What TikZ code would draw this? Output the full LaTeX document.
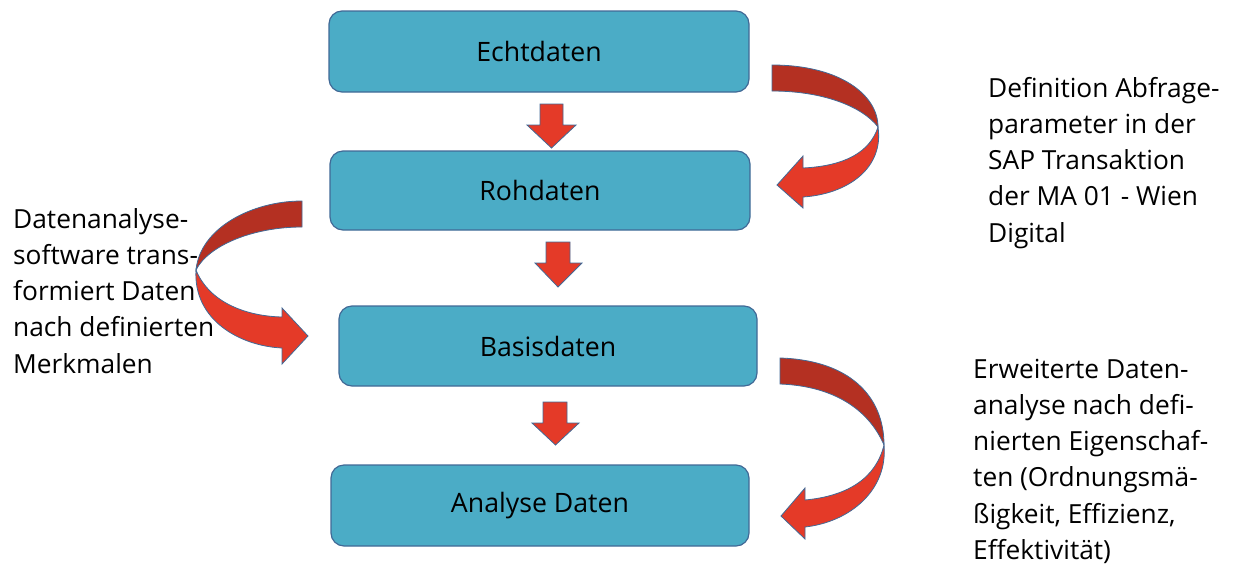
\documentclass[tikz,border=0pt]{standalone}
\usepackage{fontspec}
\setmainfont{Open Sans}
\begin{document}
\begin{tikzpicture}[x=1pt,y=-1pt,
  databox/.style={draw=boxline,fill=boxfill,line width=1.2pt,rounded corners=13pt,
    font=\fontsize{26.7}{30}\selectfont,text=black,inner sep=0pt},
  sidetext/.style={inner sep=0pt,font=\fontsize{26.3}{36.3}\selectfont,text=black,anchor=base west},
  redarrow/.style={draw=boxline,line width=0.8pt,fill=arrred,line join=miter},
  darkband/.style={draw=boxline,line width=0.8pt,fill=arrdark}]
\definecolor{boxfill}{RGB}{75,172,198}
\definecolor{boxline}{RGB}{65,105,150}
\definecolor{arrred}{RGB}{228,58,40}
\definecolor{arrdark}{RGB}{180,48,34}
\useasboundingbox (0,0) rectangle (1238,568);

% boxes
\node[databox,minimum width=420pt,minimum height=81pt] (echt) at (539,51.5) {Echtdaten};
\node[databox,minimum width=420pt,minimum height=79pt] (roh) at (540,190.5) {Rohdaten};
\node[databox,minimum width=418pt,minimum height=80pt] (basis) at (548,346) {Basisdaten};
\node[databox,minimum width=418pt,minimum height=81pt] (analyse) at (540,505.5) {Analyse Daten};

% straight down arrows
\draw[redarrow] (540,104) -- (563,104) -- (563,125) -- (576,125) -- (551.5,148) -- (527,125) -- (540,125) -- cycle;
\draw[redarrow] (546,242) -- (570,242) -- (570,263) -- (582,263) -- (558,287) -- (535,263) -- (546,263) -- cycle;
\draw[redarrow] (543,402) -- (567,402) -- (567,423) -- (579,423) -- (555.5,445) -- (532,423) -- (543,423) -- cycle;

% curved arrow top right
\draw[darkband] (772,65) .. controls (840,65) and (878,95) .. (878,127)
   .. controls (862,106) and (822,91) .. (772,91) -- cycle;
\draw[redarrow] (878,127) .. controls (884,168) and (848,194) .. (803,197)
   -- (803,208) -- (777,185) -- (803,156) -- (803,168)
   .. controls (845,166) and (870,152) .. (878,127) -- cycle;

% curved arrow bottom right
\draw[darkband] (780,358) .. controls (848,360) and (884,395) .. (884,445)
   .. controls (868,408) and (832,386) .. (780,384) -- cycle;
\draw[redarrow] (884,445) .. controls (888,490) and (850,522) .. (805,527)
   -- (805,539) -- (781,516) -- (805,488) -- (805,500)
   .. controls (848,496) and (876,478) .. (884,445) -- cycle;

% curved arrow left
\draw[darkband] (302,201) .. controls (252,201) and (200,228) .. (196,270)
   .. controls (208,246) and (252,227) .. (302,227) -- cycle;
\draw[redarrow] (196,270) .. controls (193,320) and (240,346) .. (282,348)
   -- (282,364) -- (308,336) -- (282,308) -- (282,317)
   .. controls (242,316) and (208,300) .. (196,270) -- cycle;

% texts
\node[sidetext] (t1) at (988,97) {\begin{tabular}[t]{@{}l@{}}Definition Abfrage-\\parameter in der\\SAP Transaktion\\der MA 01 - Wien\\Digital\end{tabular}};
\node[sidetext] (t2) at (13,228) {\begin{tabular}[t]{@{}l@{}}Datenanalyse-\\software trans-\\formiert Daten\\nach definierten\\Merkmalen\end{tabular}};
\node[sidetext] (t3) at (973,378) {\begin{tabular}[t]{@{}l@{}}Erweiterte Daten-\\analyse nach defi-\\nierten Eigenschaf-\\ten (Ordnungsmä-\\ßigkeit, Effizienz,\\Effektivität)\end{tabular}};
\end{tikzpicture}
\end{document}
